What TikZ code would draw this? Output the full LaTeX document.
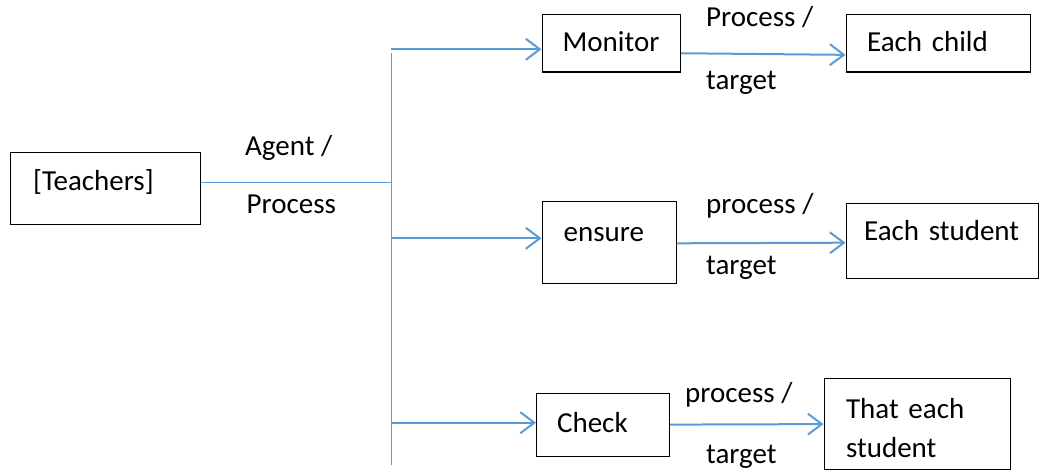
\documentclass[tikz,border=0pt]{standalone}
\usepackage{fontspec}
\setmainfont{Carlito}
\usetikzlibrary{arrows.meta}
\definecolor{lineblue}{RGB}{91,155,213}

\begin{document}
\begin{tikzpicture}[x=1pt, y=-1pt, font=\fontsize{29}{39}\selectfont,
    box/.style = {draw, line width=1.2pt, anchor=north west, inner ysep=0pt, align=left},
    lbl/.style = {anchor=base west, inner sep=0pt},
    trunk/.style = {draw=lineblue, line width=1.5pt},
    flow/.style = {draw=lineblue, line width=2pt, -{Straight Barb[length=14pt, width=21pt, line width=2pt]}}]
    \useasboundingbox (0,0) rectangle (1043,476);
    % boxes
    \node[box, inner xsep=22.5pt, text width=145pt, text height=38.5pt, text depth=33.5pt] (teach) at (10,151.5) {[Teachers]};
    \node[box, inner xsep=20.5pt, text width=97.5pt, text height=37pt, text depth=20.5pt] (mon) at (541.5,14) {Monitor};
    \node[box, inner xsep=21pt, text width=142.5pt, text height=37pt, text depth=20.5pt] (child) at (845.5,14) {Each child};
    \node[box, inner xsep=21.5pt, text width=91pt, text height=40pt, text depth=42pt] (ens) at (541.5,201) {ensure};
    \node[box, inner xsep=18pt, text width=156.5pt, text height=37.5pt, text depth=37.5pt] (stud) at (845.5,202.5) {Each student};
    \node[box, inner xsep=20.5pt, text width=92pt, text height=39pt, text depth=24pt] (chk) at (536,392.5) {Check};
    \node[box, inner xsep=22pt, text width=142.5pt, text height=40pt, text depth=51pt] (that) at (823.5,378) {That each\\student};
    % labels
    \node[lbl] (ag) at (245,155) {Agent /};
    \node[lbl] (ap) at (246.5,213.3) {Process};
    \node[lbl] (p1) at (706,27) {Process /};
    \node[lbl] (t1) at (706,90) {target};
    \node[lbl] (p2) at (706,213) {process /};
    \node[lbl] (t2) at (706,274) {target};
    \node[lbl] (p3) at (685,402) {process /};
    \node[lbl] (t3) at (706,463) {target};
    % trunk and branches
    \coordinate (top) at (391.7,53);
    \coordinate (bot) at (391.7,465);
    \coordinate (b1) at (391,49.3);
    \coordinate (b2) at (391,238.3);
    \coordinate (b3) at (391,422.7);
    \draw[draw=lineblue, line width=1pt] ([yshift=5.2pt]teach.east) -- ([yshift=5.2pt]teach.east -| top);
    \draw[trunk] (top) -- (bot);
    \draw[flow] (b1) -- (b1 -| mon.west);
    \draw[flow] (b2) -- (b2 -| ens.west);
    \draw[flow] (b3) -- (b3 -| chk.west);
    \draw[flow] ([yshift=-9.9pt]mon.east) -- ([yshift=-11.5pt]child.west);
    \draw[flow] ([yshift=-0.7pt]ens.east) -- ([yshift=-2.1pt]stud.west);
    \draw[flow] (chk.east) -- (that.west);
\end{tikzpicture}
\end{document}
